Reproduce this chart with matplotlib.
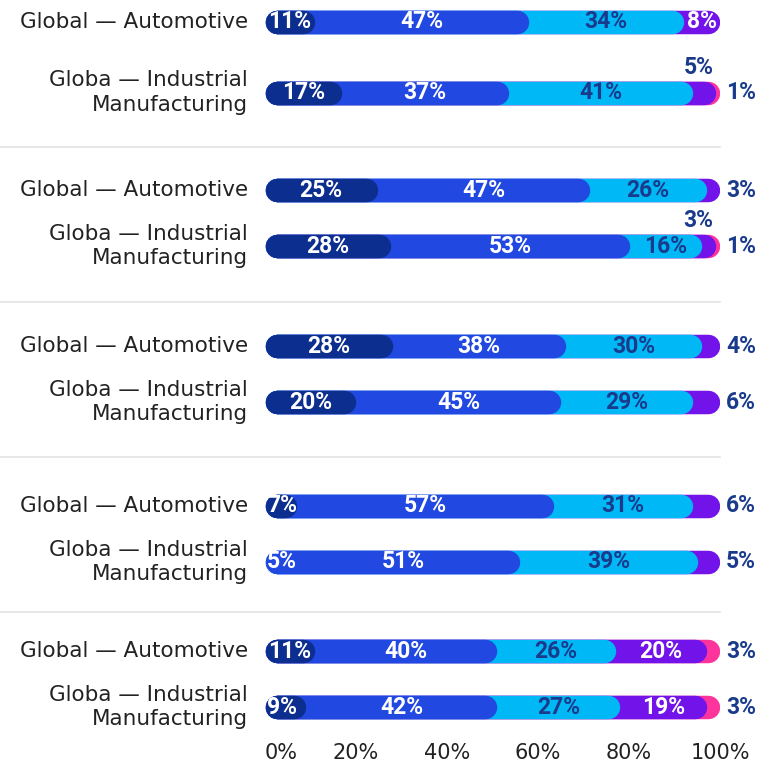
import numpy as np
import matplotlib.pyplot as plt
from matplotlib.lines import Line2D
from matplotlib.transforms import blended_transform_factory

# data, one entry per bar (top to bottom)
categories = ["Global \u2014 Automotive", "Globa \u2014 Industrial\nManufacturing"] * 5
navy   = [11, 17, 25, 28, 28, 20,  7,  5, 11,  9]
blue   = [47, 37, 47, 53, 38, 45, 57, 51, 40, 42]
light  = [34, 41, 26, 16, 30, 29, 31, 39, 26, 27]
purple = [ 8,  5,  3,  3,  4,  6,  6,  5, 20, 19]
pink   = [ 0,  1,  0,  1,  0,  0,  0,  0,  3,  3]
tick_vals = [0, 20, 40, 60, 80, 100]
tick_labels = ["0%", "20%", "40%", "60%", "80%", "100%"]

series = [navy, blue, light, purple, pink]
colors = ["#0C2E8E", "#2148E0", "#00B8F5", "#7213EA", "#FD349C"]
text_colors = ["white", "white", "#1A3A8C", "white", "white"]
out_color = "#1A3A8C"

# layout (pixels)
W, H = 769, 766
row_y = [21.5, 92.5, 190, 246, 346, 402, 506, 562, 651, 707]
sep_y = [147, 302, 457, 612]
bar_h = 23.5
ax_left, ax_right, ax_bottom = 265, 720, 735
val_fs = 16.5

fig = plt.figure(figsize=(W / 100, H / 100), dpi=100)
ax = fig.add_axes([ax_left / W, (H - ax_bottom) / H, (ax_right - ax_left) / W, ax_bottom / H])
ax.set_xlim(0, 100)
ax.set_ylim(ax_bottom, 0)
for s in ax.spines.values():
    s.set_visible(False)
ax.set_yticks([])
ax.set_xticks(tick_vals)
ax.set_xticklabels(tick_labels, fontsize=15, color="#222222")
ax.tick_params(axis="x", length=0, pad=6)
ax.get_xticklabels()[0].set_ha("left")

px_per_unit = (ax_right - ax_left) / 100
r = (bar_h / 2) / px_per_unit
lw = bar_h * 0.72

vals = np.array(series, dtype=float).T  # rows x segments
fig_x = blended_transform_factory(fig.transFigure, ax.transData)

for i, row in enumerate(vals):
    y = row_y[i]
    total = row.sum()
    cum = np.cumsum(row) / total * 100
    starts = np.concatenate([[0], cum[:-1]])
    # pills from 0 to cumulative end, biggest underneath
    for j in range(len(row) - 1, -1, -1):
        if row[j] == 0:
            continue
        ax.plot([r, max(cum[j] - r, r)], [y, y], color=colors[j], lw=lw,
                solid_capstyle="round", zorder=2 + (len(row) - j))
    nz = [j for j in range(len(row)) if row[j] > 0]
    last = nz[-1]
    for j in nz:
        v = int(row[j])
        lab = f"{v}%"
        kw = dict(fontsize=val_fs, family="Roboto", weight="bold", zorder=10)
        if j != 0 and v <= 6 and j == last:
            ax.annotate(lab, (100, y), xytext=(6, 0), textcoords="offset pixels",
                        ha="left", va="center", color=out_color, **kw)
        elif j != 0 and v <= 6:
            ax.annotate(lab, (cum[j], y - bar_h / 2), xytext=(-2, 2), textcoords="offset pixels",
                        ha="right", va="bottom", color=out_color, **kw)
        elif j == 0 and v < 10:
            ax.annotate(lab, (0, y), xytext=(2, 0), textcoords="offset pixels",
                        ha="left", va="center", color=text_colors[j], **kw)
        else:
            ax.text((starts[j] + cum[j]) / 2, y, lab, ha="center", va="center",
                    color=text_colors[j], **kw)
    ax.text(248 / W, y, categories[i], transform=fig_x, ha="right", va="center",
            fontsize=15.5, color="#222222", linespacing=1.3, multialignment="right")

for sy in sep_y:
    fig.add_artist(Line2D([0, ax_right / W], [sy, sy], transform=fig_x,
                          color="#E3E3E3", lw=1.2))

fig.savefig("out.png", dpi=100)
